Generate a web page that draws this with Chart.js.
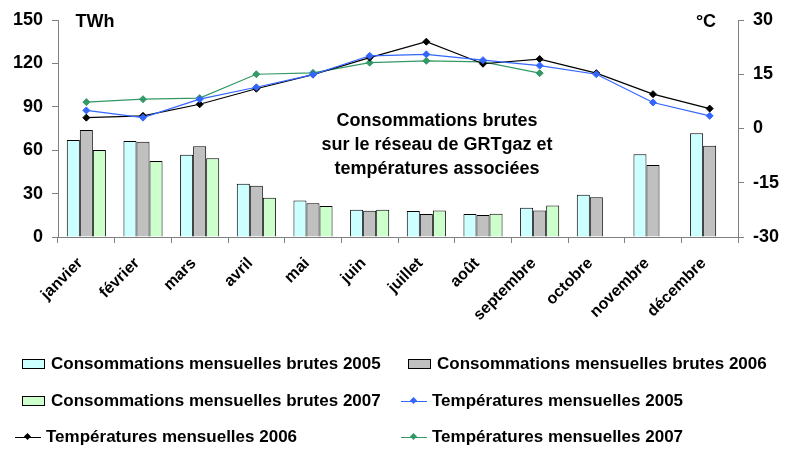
<!DOCTYPE html>
<html>
<head>
<meta charset="utf-8">
<script src="https://cdn.jsdelivr.net/npm/chart.js@4"></script>
<style>
  body { margin: 0; background: #fff; }
  #wrap { position: relative; width: 793px; height: 450px; }
  #legend { position: absolute; left: 0; top: 0; width: 793px; height: 450px; pointer-events: none;
            font: bold 17px "Liberation Sans", Arial, sans-serif; color: #000; }
  .item { position: absolute; display: flex; align-items: center; height: 20px; white-space: nowrap; }
  .box { display: inline-block; width: 21px; height: 8px; border: 1px solid #000; margin-right: 6px; }
  .ln { position: relative; display: inline-block; width: 26px; height: 8px; margin-right: 5px; }
  .ln i { position: absolute; left: 0; right: 0; top: 4px; height: 1px; }
  .ln b { position: absolute; left: 10px; top: 1px; width: 5px; height: 5px; transform: rotate(45deg); }
</style>
</head>
<body>
<div id="wrap">
  <canvas id="chart" width="793" height="450"></canvas>
  <div id="legend"></div>
</div>
<script>
var months = ["janvier", "février", "mars", "avril", "mai", "juin", "juillet", "août", "septembre", "octobre", "novembre", "décembre"];

// TWh
var conso2005 = [67.0, 66.4, 56.9, 36.8, 25.3, 18.9, 18.0, 15.9, 20.3, 29.2, 57.2, 71.7];
var conso2006 = [74.0, 65.9, 62.7, 35.5, 23.3, 18.2, 15.9, 15.2, 18.4, 27.4, 49.8, 63.1];
var conso2007 = [60.1, 52.5, 54.4, 27.2, 21.4, 18.9, 18.4, 16.1, 21.7, null, null, null];

// °C
var temp2005 = [5.0, 3.0, 8.1, 11.4, 14.9, 20.1, 20.5, 18.9, 17.4, 15.0, 7.2, 3.5];
var temp2006 = [3.0, 3.5, 6.7, 11.0, 14.9, 19.6, 24.0, 17.9, 19.2, 15.3, 9.5, 5.5];
var temp2007 = [7.3, 8.1, 8.4, 15.0, 15.4, 18.2, 18.7, 18.4, 15.3, null, null, null];

var titleLines = ["Consommations brutes", "sur le réseau de GRTgaz et", "températures associées"];

var font = '"Liberation Sans", Arial, sans-serif';

function barSet(label, data, color) {
    return {
        type: 'bar', label: label, data: data, backgroundColor: color,
        borderColor: '#000', borderWidth: 1, yAxisID: 'y', order: 1,
        categoryPercentage: 0.69, barPercentage: 1.0
    };
}
function lineSet(label, data, color) {
    return {
        type: 'line', label: label, data: data, borderColor: color, backgroundColor: color,
        borderWidth: 1.2, pointStyle: 'rectRot', pointRadius: 3.5, pointBorderWidth: 1,
        yAxisID: 'y1', order: 0, spanGaps: false
    };
}

var textPlugin = {
    id: 'texts',
    afterDraw: function (chart) {
        var ctx = chart.ctx;
        ctx.save();
        ctx.fillStyle = '#000';
        ctx.font = 'bold 18px ' + font;
        ctx.textBaseline = 'top';
        ctx.textAlign = 'center';
        ctx.fillText('TWh', 95, 13);
        ctx.fillText('°C', 706, 13);
        ctx.textBaseline = 'middle';
        titleLines.forEach(function (t, i) {
            ctx.fillText(t, 437, 121 + i * 24);
        });
        ctx.restore();
    }
};

var chart = new Chart(document.getElementById('chart'), {
    data: {
        labels: months,
        datasets: [
            barSet('Consommations mensuelles brutes 2005', conso2005, '#CCFFFF'),
            barSet('Consommations mensuelles brutes 2006', conso2006, '#C0C0C0'),
            barSet('Consommations mensuelles brutes 2007', conso2007, '#CCFFCC'),
            lineSet('Températures mensuelles 2005', temp2005, '#3366FF'),
            lineSet('Températures mensuelles 2006', temp2006, '#000000'),
            lineSet('Températures mensuelles 2007', temp2007, '#339966')
        ]
    },
    options: {
        responsive: false,
        animation: false,
        layout: { padding: { top: 20, left: 0, right: 0, bottom: 0 } },
        plugins: { legend: { display: false }, tooltip: { enabled: false } },
        scales: {
            x: {
                grid: { display: true, drawOnChartArea: false, drawTicks: true, tickLength: 6, color: '#808080', offset: true },
                border: { display: true, color: '#808080' },
                ticks: { color: '#000', font: { family: font, size: 16, weight: 'bold' }, minRotation: 45, maxRotation: 45,
                         padding: 11, labelOffset: -6, autoSkip: false },
                afterFit: function (s) { s.height = 213; }
            },
            y: {
                position: 'left', min: 0, max: 150,
                grid: { display: true, drawOnChartArea: false, tickLength: 6, color: '#808080' },
                border: { display: true, color: '#808080' },
                ticks: { stepSize: 30, color: '#000', padding: 9, font: { family: font, size: 18, weight: 'bold' } },
                afterFit: function (s) { s.width = 58; }
            },
            y1: {
                position: 'right', min: -30, max: 30,
                grid: { display: true, drawOnChartArea: false, tickLength: 6, color: '#808080' },
                border: { display: true, color: '#808080' },
                ticks: { stepSize: 15, color: '#000', padding: 9, font: { family: font, size: 18, weight: 'bold' } },
                afterFit: function (s) { s.width = 55; }
            }
        }
    },
    plugins: [textPlugin]
});

// legend laid out in two columns under the chart
var legendPos = [[15, 354], [401, 354], [15, 391], [401, 391], [15, 427], [401, 427]];
var legend = document.getElementById('legend');
chart.data.datasets.forEach(function (ds, i) {
    var el = document.createElement('div');
    el.className = 'item';
    el.style.left = legendPos[i][0] + 'px';
    el.style.top = legendPos[i][1] + 'px';
    var mark;
    if (ds.type === 'bar') {
        mark = '<span class="box" style="background:' + ds.backgroundColor + ';margin-left:7px"></span>';
    } else {
        mark = '<span class="ln"><i style="background:' + ds.borderColor + '"></i><b style="background:' + ds.borderColor + '"></b></span>';
    }
    el.innerHTML = mark + '<span>' + ds.label + '</span>';
    legend.appendChild(el);
});
</script>
</body>
</html>
